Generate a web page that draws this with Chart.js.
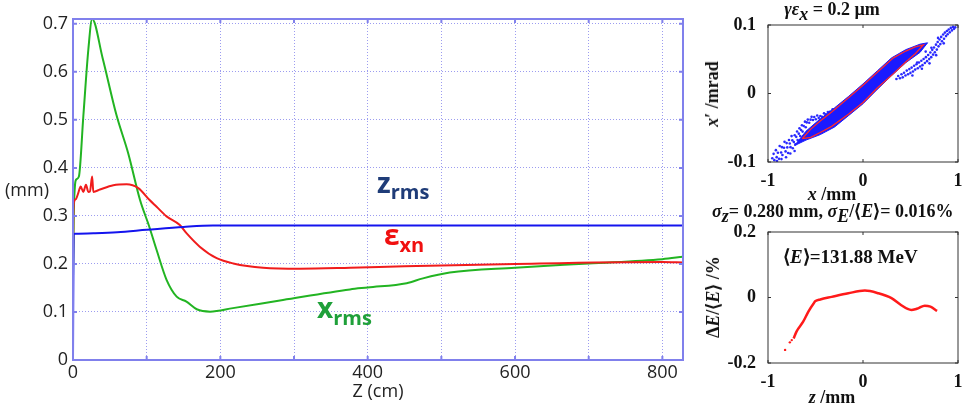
<!DOCTYPE html>
<html>
<head>
<meta charset="utf-8">
<script src="https://cdn.jsdelivr.net/npm/chart.js@4.4.1/dist/chart.umd.min.js"></script>
<style>
  body { margin: 0; width: 964px; height: 404px; position: relative; overflow: hidden; background: #fff; }
  .box { position: absolute; }
  .lbl { position: absolute; white-space: nowrap; }
  .sans { font-family: "Open Sans", sans-serif; }
  .serif { font-family: "Liberation Serif", serif; font-weight: bold; color: #111; }
  .rot { transform: translate(-50%, -50%) rotate(-90deg); }
</style>
</head>
<body>
<div class="box" style="left:0;top:0;width:700px;height:404px"><canvas id="mainChart" width="700" height="404"></canvas></div>
<div class="box" style="left:700px;top:0;width:264px;height:200px"><canvas id="phaseChart" width="264" height="200"></canvas></div>
<div class="box" style="left:700px;top:205px;width:264px;height:199px"><canvas id="energyChart" width="264" height="199"></canvas></div>

<!-- etiquetas do gráfico principal -->
<div class="lbl sans" style="left:5px;top:180px;font-size:18px;line-height:18px;color:#222">(mm)</div>
<div class="lbl sans" style="left:377px;top:168px;font-size:28px;line-height:28px;font-weight:bold;color:#1f3c78">z<span style="font-size:20px;position:relative;top:6px">rms</span></div>
<div class="lbl sans" style="left:384px;top:220px;font-size:28px;line-height:28px;font-weight:bold;color:#f01010">ε<span style="font-size:20px;position:relative;top:7px">xn</span></div>
<div class="lbl sans" style="left:317px;top:293px;font-size:28px;line-height:28px;font-weight:bold;color:#1fa03a">x<span style="font-size:20px;position:relative;top:7px">rms</span></div>

<!-- etiquetas dos gráficos da direita -->
<div class="lbl serif" style="left:700px;width:264px;text-align:center;top:0px;font-size:18px;line-height:18px"><i>γε</i><i style="position:relative;top:5px">x</i> = 0.2 µm</div>
<div class="lbl serif rot" style="left:712px;top:94px;font-size:18px;line-height:18px"><i>x</i>′ /mrad</div>
<div class="lbl serif" style="left:700px;width:264px;text-align:center;top:185px;font-size:18px;line-height:18px"><i>x</i> /mm</div>
<div class="lbl serif" style="left:712px;top:202px;font-size:18px;line-height:18px"><i>σ</i><i style="position:relative;top:5px">z</i>= 0.280 mm, <i>σ</i><i style="position:relative;top:5px">E</i>/⟨<i>E</i>⟩= 0.016%</div>
<div class="lbl serif" style="left:783px;top:247px;font-size:19px;line-height:19px">⟨<i>E</i>⟩=131.88 MeV</div>
<div class="lbl serif rot" style="left:713px;top:297px;font-size:18px;line-height:18px">Δ<i>E</i>/⟨<i>E</i>⟩ /%</div>
<div class="lbl serif" style="left:700px;width:264px;text-align:center;top:388px;font-size:18px;line-height:18px"><i>z</i> /mm</div>

<script>
// dados: Z (cm) e valores em mm
const zBlue = [0, 0.8, 3, 30, 60, 100, 150, 190, 250, 400, 600, 828];
const zRms  = [0, 0.262, 0.263, 0.264, 0.266, 0.271, 0.277, 0.280, 0.280, 0.280, 0.280, 0.280];

const zRed = [0, 0.5, 1.5, 4, 7, 10.4, 14, 17.6, 20.8, 23, 26, 27.6, 36.6, 54.7, 72.8, 88.6, 104, 113.5, 127, 145, 154, 172, 195, 217.5, 258, 308, 376, 450, 600, 800, 828];
const exn  = [0.19, 0.30, 0.33, 0.335, 0.347, 0.361, 0.35, 0.365, 0.35, 0.351, 0.382, 0.35, 0.355, 0.364, 0.366, 0.358, 0.333, 0.319, 0.299, 0.281, 0.264, 0.236, 0.212, 0.201, 0.192, 0.19, 0.192, 0.195, 0.2, 0.204, 0.203];

const zGreen = [0, 1, 2.5, 4, 8, 14, 20.8, 26, 40, 59, 75, 91, 103, 113.5, 127, 140.7, 154, 168, 186, 217, 285, 376, 400, 453, 475, 511.5, 600, 700, 800, 828];
const xRms   = [0.17, 0.30, 0.36, 0.375, 0.382, 0.507, 0.646, 0.71, 0.63, 0.51, 0.43, 0.333, 0.28, 0.229, 0.167, 0.132, 0.1215, 0.1056, 0.1007, 0.108, 0.125, 0.147, 0.151, 0.160, 0.17, 0.182, 0.192, 0.201, 0.21, 0.215];

// espaço de fase x - x' (partículas do halo, lidas à mão)
const xHalo = [-0.955, -0.941, -0.933, -0.917, -0.909, -0.896, -0.884, -0.877, -0.862, -0.853, -0.848, -0.831, -0.826, -0.815, -0.804, -0.797, -0.788, -0.779, -0.771, -0.763, -0.752, -0.744, -0.739, -0.728, -0.719, -0.712, -0.703, -0.694, -0.688, -0.676, -0.669, -0.661, -0.652, -0.643, -0.636, -0.624, -0.611, -0.603, -0.592, -0.581, -0.566, -0.552, -0.541, -0.527, -0.513, -0.497, -0.482, -0.466, -0.449, -0.431, -0.41, -0.392, -0.37, -0.35, -0.32, -0.29, -0.905, -0.858, -0.81, -0.765, -0.72,
  0.352, 0.371, 0.389, 0.405, 0.418, 0.432, 0.447, 0.461, 0.474, 0.488, 0.499, 0.512, 0.526, 0.538, 0.549, 0.563, 0.577, 0.589, 0.601, 0.614, 0.626, 0.638, 0.651, 0.662, 0.674, 0.686, 0.697, 0.709, 0.718, 0.729, 0.738, 0.747, 0.756, 0.768, 0.777, 0.786, 0.795, 0.806, 0.814, 0.823, 0.832, 0.844, 0.853, 0.862, 0.874, 0.883, 0.891, 0.902, 0.913, 0.924, 0.936, 0.947, 0.958, 0.971, 0.66, 0.72, 0.79, 0.57, 0.52, 0.62, 0.7, 0.77, 0.85];
const yHalo = [-0.0945, -0.0881, -0.0973, -0.0827, -0.0929, -0.0866, -0.0954, -0.0767, -0.0862, -0.0783, -0.0898, -0.0791, -0.0706, -0.0845, -0.0724, -0.0787, -0.0868, -0.0679, -0.0731, -0.0783, -0.0622, -0.0684, -0.0799, -0.0708, -0.0609, -0.0742, -0.0633, -0.0554, -0.0678, -0.0586, -0.0509, -0.0621, -0.0532, -0.0463, -0.0556, -0.0474, -0.0411, -0.0493, -0.0422, -0.0381, -0.0426, -0.0382, -0.0341, -0.0387, -0.0343, -0.0377, -0.0322, -0.0356, -0.0329, -0.0341, -0.029, -0.0302, -0.027, -0.0268, -0.023, -0.0226, -0.0985, -0.0958, -0.093, -0.0875, -0.084,
  0.0212, 0.0255, 0.0223, 0.0281, 0.0236, 0.0302, 0.0262, 0.0334, 0.0281, 0.0356, 0.0301, 0.0378, 0.0322, 0.0405, 0.0349, 0.0427, 0.0368, 0.0452, 0.0395, 0.0478, 0.0414, 0.0503, 0.0445, 0.0531, 0.0472, 0.0563, 0.0502, 0.0598, 0.0531, 0.0637, 0.0568, 0.0671, 0.0602, 0.0713, 0.0641, 0.0752, 0.0688, 0.0789, 0.0721, 0.0826, 0.0763, 0.0861, 0.0799, 0.0889, 0.0838, 0.0912, 0.0864, 0.0935, 0.0893, 0.0958, 0.0921, 0.0972, 0.0944, 0.0966, 0.0612, 0.0668, 0.0812, 0.0452, 0.0262, 0.0362, 0.044, 0.056, 0.0732];
const xCore = [-0.72, -0.6, -0.45, -0.3, -0.15, 0, 0.15, 0.3, 0.45, 0.6, 0.68, 0.6, 0.45, 0.3, 0.15, 0, -0.15, -0.3, -0.45, -0.6, -0.72];
const yCore = [-0.076, -0.055, -0.037, -0.021, -0.004, 0.014, 0.033, 0.052, 0.064, 0.072, 0.074, 0.06, 0.045, 0.026, 0.006, -0.015, -0.032, -0.049, -0.06, -0.068, -0.076];
const xEll = [-0.64, -0.55, -0.45, -0.33, -0.15, 0, 0.15, 0.32, 0.45, 0.55, 0.635, 0.55, 0.45, 0.32, 0.15, 0, -0.15, -0.33, -0.45, -0.55, -0.64];
const yEll = [-0.066, -0.052, -0.040, -0.027, -0.006, 0.012, 0.031, 0.052, 0.062, 0.068, 0.071, 0.058, 0.046, 0.029, 0.008, -0.013, -0.030, -0.048, -0.057, -0.064, -0.066];

// espaço longitudinal z - dE/E
const zLong  = [-0.73, -0.70, -0.63, -0.575, -0.52, -0.5, -0.45, -0.33, -0.155, 0.02, 0.16, 0.30, 0.40, 0.47, 0.51, 0.55, 0.58, 0.65, 0.71, 0.78];
const dELong = [-0.125, -0.104, -0.074, -0.043, -0.018, -0.011, -0.006, 0.002, 0.013, 0.021, 0.013, -0.002, -0.023, -0.035, -0.038, -0.036, -0.033, -0.025, -0.028, -0.041];
const zDots  = [-0.82, -0.77, -0.75];
const dEDots = [-0.16, -0.137, -0.13];

const pts = (xs, ys) => xs.map((x, i) => ({ x: x, y: ys[i] }));

// moldura com marcas internas
function framePlugin(color, width, tick) {
  return {
    id: 'frame',
    afterDraw(chart) {
      const { ctx, chartArea: a, scales } = chart;
      ctx.save();
      ctx.strokeStyle = color;
      ctx.lineWidth = width;
      ctx.setLineDash([]);
      ctx.strokeRect(a.left, a.top, a.right - a.left, a.bottom - a.top);
      ctx.beginPath();
      scales.x.ticks.forEach(t => {
        const px = scales.x.getPixelForValue(t.value);
        ctx.moveTo(px, a.bottom); ctx.lineTo(px, a.bottom - tick);
        ctx.moveTo(px, a.top); ctx.lineTo(px, a.top + tick);
      });
      scales.y.ticks.forEach(t => {
        const py = scales.y.getPixelForValue(t.value);
        ctx.moveTo(a.left, py); ctx.lineTo(a.left + tick, py);
        ctx.moveTo(a.right, py); ctx.lineTo(a.right - tick, py);
      });
      ctx.stroke();
      ctx.restore();
    }
  };
}

const fmt = v => Math.abs(v) < 1e-9 ? '0' : String(Math.round(v * 100) / 100);

// gráfico principal
const gridColor = '#9c9cf0';
const mainFont = { family: 'Open Sans', size: 18 };
new Chart(document.getElementById('mainChart'), {
  type: 'scatter',
  data: {
    datasets: [
      { data: pts(zBlue, zRms), borderColor: '#1414ee', borderWidth: 2, showLine: true, pointRadius: 0, order: 0 },
      { data: pts(zRed, exn), borderColor: '#f01c1c', borderWidth: 2, showLine: true, pointRadius: 0, order: 1 },
      { data: pts(zGreen, xRms), borderColor: '#22b422', borderWidth: 2, showLine: true, pointRadius: 0, order: 2 }
    ]
  },
  options: {
    responsive: false,
    animation: false,
    layout: { padding: { top: 19, right: 17, left: 0, bottom: 0 } },
    plugins: { legend: { display: false }, tooltip: { enabled: false } },
    elements: { line: { cubicInterpolationMode: 'monotone' } },
    scales: {
      x: {
        type: 'linear', min: 0, max: 828,
        afterFit: s => { s.height = 44; },
        grid: { color: gridColor, lineWidth: 1, drawTicks: false },
        border: { display: false, dash: [1, 2] },
        ticks: { stepSize: 100, includeBounds: false, padding: 2, color: '#222', font: mainFont, maxRotation: 0,
          callback: v => (v % 200 === 0 ? String(v) : '') },
        title: { display: true, text: 'Z (cm)', color: '#222', font: mainFont, padding: { top: 0, bottom: 1 } }
      },
      y: {
        min: 0, max: 0.71,
        afterFit: s => { s.width = 73; },
        grid: { color: gridColor, lineWidth: 1, drawTicks: false },
        border: { display: false, dash: [1, 2] },
        ticks: { stepSize: 0.1, includeBounds: false, padding: 5, color: '#222', font: mainFont,
          callback: v => (Math.abs(v) < 1e-9 ? '0' : v.toFixed(1)) }
      }
    }
  },
  plugins: [framePlugin('#8080ec', 2, 4)]
});

// fontes dos gráficos da direita
const serifTick = { family: 'Liberation Serif', size: 18, weight: 'bold' };

new Chart(document.getElementById('phaseChart'), {
  type: 'scatter',
  data: {
    datasets: [
      { data: pts(xEll, yEll), showLine: true, borderColor: '#ff2a2a', borderWidth: 1.3, pointRadius: 0, order: 0 },
      { data: pts(xCore, yCore), showLine: true, fill: 'shape', backgroundColor: '#1a1aff', borderColor: '#1a1aff', borderWidth: 1, pointRadius: 0, order: 1 },
      { data: pts(xHalo, yHalo), pointRadius: 1.3, pointBackgroundColor: '#2a2aff', pointBorderWidth: 0, order: 2 }
    ]
  },
  options: {
    responsive: false,
    animation: false,
    layout: { padding: { top: 25, right: 6, left: 0, bottom: 0 } },
    plugins: { legend: { display: false }, tooltip: { enabled: false } },
    scales: {
      x: {
        type: 'linear', min: -1, max: 1,
        afterFit: s => { s.height = 38; },
        grid: { display: false },
        border: { display: false },
        ticks: { stepSize: 1, padding: 1, color: '#111', font: serifTick, callback: fmt, maxRotation: 0 }
      },
      y: {
        min: -0.1, max: 0.1,
        afterFit: s => { s.width = 68; },
        grid: { display: false },
        border: { display: false },
        ticks: { stepSize: 0.1, padding: 4, color: '#111', font: serifTick, callback: fmt }
      }
    }
  },
  plugins: [framePlugin('#333', 1, 3)]
});

new Chart(document.getElementById('energyChart'), {
  type: 'scatter',
  data: {
    datasets: [
      { data: pts(zLong, dELong), showLine: true, borderColor: '#ff1a1a', borderWidth: 2.5, pointRadius: 0, cubicInterpolationMode: 'monotone' },
      { data: pts(zDots, dEDots), pointRadius: 1.2, pointBackgroundColor: '#ff1a1a', pointBorderWidth: 0 }
    ]
  },
  options: {
    responsive: false,
    animation: false,
    layout: { padding: { top: 27, right: 6, left: 0, bottom: 0 } },
    plugins: { legend: { display: false }, tooltip: { enabled: false } },
    scales: {
      x: {
        type: 'linear', min: -1, max: 1,
        afterFit: s => { s.height = 41; },
        grid: { display: false },
        border: { display: false },
        ticks: { stepSize: 1, padding: 1, color: '#111', font: serifTick, callback: fmt, maxRotation: 0 }
      },
      y: {
        min: -0.2, max: 0.2,
        afterFit: s => { s.width = 68; },
        grid: { display: false },
        border: { display: false },
        ticks: { stepSize: 0.2, padding: 4, color: '#111', font: serifTick, callback: fmt }
      }
    }
  },
  plugins: [framePlugin('#333', 1, 3)]
});
</script>
</body>
</html>
